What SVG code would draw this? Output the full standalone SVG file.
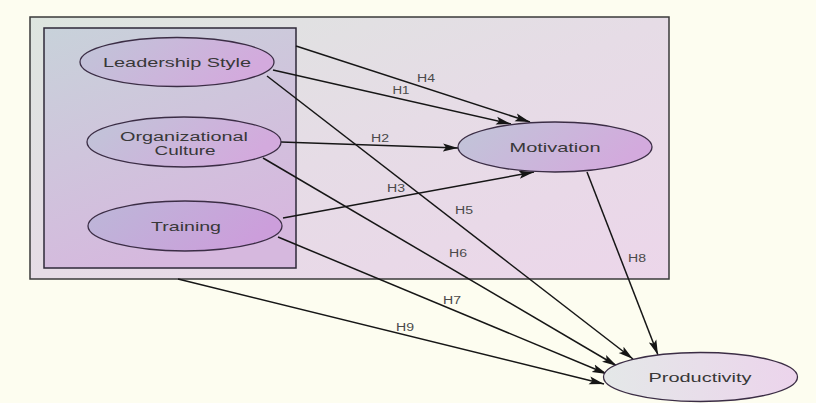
<svg xmlns="http://www.w3.org/2000/svg" width="816" height="403" viewBox="0 0 816 403">
<defs>
  <linearGradient id="gOuter" x1="0" y1="0" x2="1" y2="1">
    <stop offset="0" stop-color="#dde5df"/>
    <stop offset="0.5" stop-color="#e6dce6"/>
    <stop offset="1" stop-color="#ecd6ea"/>
  </linearGradient>
  <linearGradient id="gInner" x1="0" y1="0" x2="0.4" y2="1">
    <stop offset="0" stop-color="#c8d2da"/>
    <stop offset="1" stop-color="#d6b8de"/>
  </linearGradient>
  <linearGradient id="gNode" x1="0" y1="0" x2="1" y2="0.3">
    <stop offset="0" stop-color="#c0c6d8"/>
    <stop offset="1" stop-color="#d3aadd"/>
  </linearGradient>
  <linearGradient id="gTrain" x1="0" y1="0" x2="1" y2="0.3">
    <stop offset="0" stop-color="#bcb8d8"/>
    <stop offset="1" stop-color="#cc9edb"/>
  </linearGradient>
  <linearGradient id="gProd" x1="0" y1="0" x2="1" y2="0">
    <stop offset="0" stop-color="#e4e8e8"/>
    <stop offset="1" stop-color="#ecd4ec"/>
  </linearGradient>
  <marker id="arr" markerUnits="userSpaceOnUse" markerWidth="16" markerHeight="10" refX="15" refY="5" orient="auto">
    <path d="M0,1 L15,5 L0,9 L3,5 Z" fill="#151515"/>
  </marker>
  <style>
    .node { stroke: #3b2d45; stroke-width: 1.3; }
    .lbl { font-family: "Liberation Sans", Arial, sans-serif; font-size: 13px; fill: #383838; text-anchor: middle; }
    .lbl2 { font-family: "Liberation Sans", Arial, sans-serif; font-size: 12px; fill: #383838; text-anchor: middle; }
    .hl { font-family: "Liberation Sans", Arial, sans-serif; font-size: 10px; fill: #4a4a4a; text-anchor: middle; }
    .edge { stroke: #161616; stroke-width: 1.5; fill: none; marker-end: url(#arr); }
  </style>
</defs>
<rect width="816" height="403" fill="#fdfdf0"/>
<g id="outer-box">
  <rect x="30" y="17" width="639" height="262" fill="url(#gOuter)" stroke="#3a3a3a" stroke-width="1.5"/>
</g>
<g id="inner-box">
  <rect x="44" y="28" width="252" height="240" fill="url(#gInner)" stroke="#2e2838" stroke-width="1.5"/>
</g>
<g id="connectors">
  <line class="edge" x1="296" y1="46" x2="530" y2="122"/>
  <line class="edge" x1="273" y1="70" x2="511" y2="124"/>
  <line class="edge" x1="281" y1="142" x2="458" y2="148"/>
  <line class="edge" x1="283" y1="218" x2="534" y2="172"/>
  <line class="edge" x1="267" y1="76" x2="633" y2="359"/>
  <line class="edge" x1="263" y1="158" x2="617" y2="366"/>
  <line class="edge" x1="278" y1="237" x2="607" y2="374"/>
  <line class="edge" x1="178" y1="279" x2="604" y2="384"/>
  <line class="edge" x1="587" y1="172" x2="658" y2="355"/>
  <text class="hl" x="426" y="82" textLength="18" lengthAdjust="spacingAndGlyphs">H4</text>
  <text class="hl" x="401" y="94" textLength="17" lengthAdjust="spacingAndGlyphs">H1</text>
  <text class="hl" x="380" y="142" textLength="18" lengthAdjust="spacingAndGlyphs">H2</text>
  <text class="hl" x="396" y="192" textLength="18" lengthAdjust="spacingAndGlyphs">H3</text>
  <text class="hl" x="464" y="214" textLength="18" lengthAdjust="spacingAndGlyphs">H5</text>
  <text class="hl" x="458" y="257" textLength="18" lengthAdjust="spacingAndGlyphs">H6</text>
  <text class="hl" x="637" y="262" textLength="18" lengthAdjust="spacingAndGlyphs">H8</text>
  <text class="hl" x="452" y="304" textLength="18" lengthAdjust="spacingAndGlyphs">H7</text>
  <text class="hl" x="405" y="331" textLength="18" lengthAdjust="spacingAndGlyphs">H9</text>
</g>
<g id="leadership-style">
  <ellipse class="node" cx="177" cy="62" rx="97" ry="24.5" fill="url(#gNode)"/>
  <text class="lbl" x="177" y="67" textLength="148" lengthAdjust="spacingAndGlyphs">Leadership Style</text>
</g>
<g id="organizational-culture">
  <ellipse class="node" cx="184" cy="142" rx="97" ry="25" fill="url(#gNode)"/>
  <text class="lbl2" x="184" y="140.5" textLength="128" lengthAdjust="spacingAndGlyphs">Organizational</text>
  <text class="lbl2" x="185" y="154.5" textLength="61" lengthAdjust="spacingAndGlyphs">Culture</text>
</g>
<g id="training">
  <ellipse class="node" cx="185" cy="226" rx="97" ry="25" fill="url(#gTrain)"/>
  <text class="lbl" x="186" y="231" textLength="70" lengthAdjust="spacingAndGlyphs">Training</text>
</g>
<g id="motivation">
  <ellipse class="node" cx="555" cy="147" rx="97" ry="25" fill="url(#gNode)"/>
  <text class="lbl" x="555" y="152" textLength="91" lengthAdjust="spacingAndGlyphs">Motivation</text>
</g>
<g id="productivity">
  <ellipse class="node" cx="700.5" cy="377" rx="97" ry="24.5" fill="url(#gProd)"/>
  <text class="lbl" x="700" y="382" textLength="103" lengthAdjust="spacingAndGlyphs">Productivity</text>
</g>
</svg>
